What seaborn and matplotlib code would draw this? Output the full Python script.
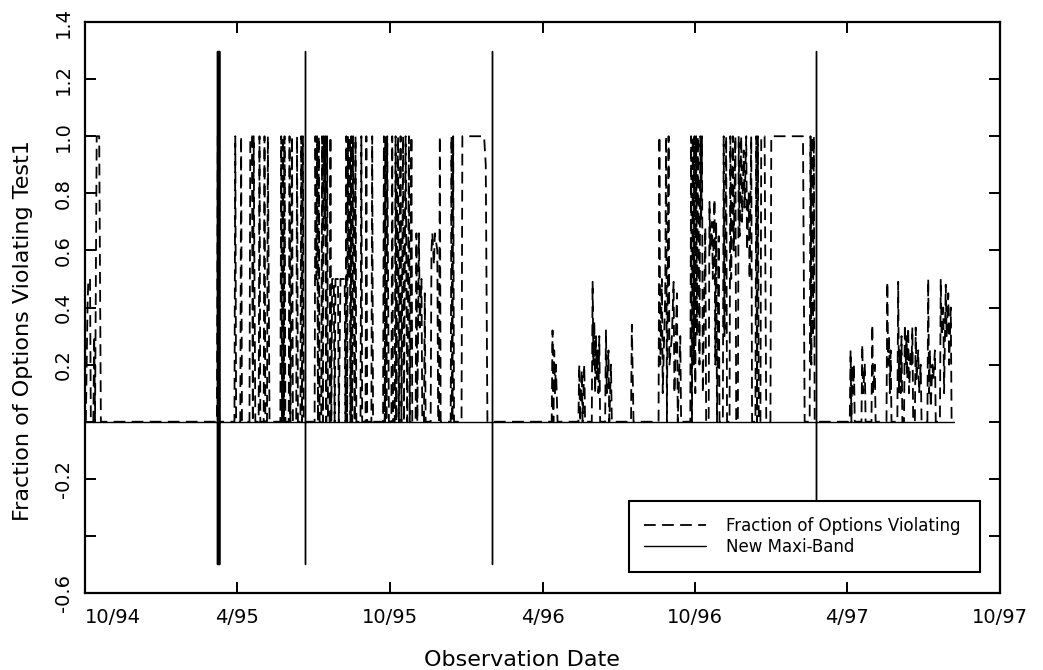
import matplotlib
matplotlib.use("Agg")
import matplotlib.pyplot as plt
import seaborn as sns
import pandas as pd

# ---------------- data ----------------
seg1_dates = ["1994-10-02", "1994-10-03", "1994-10-04", "1994-10-05", "1994-10-07", "1994-10-08",
              "1994-10-11", "1994-10-12", "1994-10-13", "1994-10-15", "1994-10-18", "1994-10-20"]
seg1_values = [0, 0.2, 0.4, 0.5, 0.5, 0,
               0, 0.3, 0, 1.0, 1.0, 0]

seg2_dates = [
    "1995-03-08", "1995-03-09", "1995-03-10", "1995-03-11", "1995-03-29", "1995-03-30", "1995-03-31",
    "1995-04-05", "1995-04-06", "1995-04-07", "1995-04-16", "1995-04-17", "1995-04-19", "1995-04-20",
    "1995-04-21", "1995-04-22", "1995-04-23", "1995-04-27", "1995-04-28", "1995-04-29",
    "1995-05-03", "1995-05-04", "1995-05-05", "1995-05-07", "1995-05-08", "1995-05-09", "1995-05-10",
    "1995-05-23", "1995-05-24", "1995-05-25", "1995-05-26", "1995-05-27", "1995-05-28", "1995-05-29",
    "1995-06-02", "1995-06-03", "1995-06-04", "1995-06-06", "1995-06-07", "1995-06-11", "1995-06-12",
    "1995-06-13", "1995-06-16", "1995-06-17", "1995-06-18", "1995-06-19", "1995-06-20",
    "1995-07-03", "1995-07-04", "1995-07-05", "1995-07-06", "1995-07-07", "1995-07-08", "1995-07-09",
    "1995-07-11", "1995-07-12", "1995-07-13", "1995-07-14", "1995-07-15", "1995-07-16", "1995-07-17",
    "1995-07-18", "1995-07-19", "1995-07-21", "1995-07-22", "1995-07-23", "1995-07-24", "1995-07-26",
    "1995-07-27", "1995-07-28", "1995-07-31", "1995-08-01", "1995-08-03", "1995-08-06", "1995-08-08",
    "1995-08-09", "1995-08-10", "1995-08-11", "1995-08-12", "1995-08-13", "1995-08-14", "1995-08-15",
    "1995-08-16", "1995-08-17", "1995-08-18", "1995-08-19", "1995-08-20", "1995-08-21", "1995-08-22",
    "1995-08-27", "1995-08-28", "1995-08-29", "1995-09-02", "1995-09-03", "1995-09-04", "1995-09-09",
    "1995-09-10", "1995-09-11", "1995-09-23", "1995-09-24", "1995-09-25", "1995-09-26", "1995-09-27",
    "1995-09-28", "1995-09-29", "1995-09-30", "1995-10-03", "1995-10-04", "1995-10-05", "1995-10-07",
    "1995-10-08", "1995-10-09", "1995-10-10", "1995-10-11", "1995-10-12", "1995-10-13", "1995-10-14",
    "1995-10-15", "1995-10-17", "1995-10-18", "1995-10-20", "1995-10-21", "1995-10-22", "1995-10-24",
    "1995-10-25", "1995-10-27", "1995-10-28", "1995-11-01", "1995-11-02", "1995-11-03", "1995-11-05",
    "1995-11-06", "1995-11-08", "1995-11-09", "1995-11-11", "1995-11-12", "1995-11-13", "1995-11-19",
    "1995-11-20", "1995-11-21", "1995-11-22", "1995-11-23", "1995-11-24", "1995-11-27", "1995-11-28",
    "1995-11-29", "1995-11-30", "1995-12-01", "1995-12-13", "1995-12-14", "1995-12-15", "1995-12-16",
    "1995-12-17", "1995-12-26", "1995-12-27", "1996-01-22", "1996-01-24", "1996-01-26"]
seg2_values = [
    0, 1.0, 1.0, 0, 0, 1.0, 0,
    0, 1.0, 0, 0, 1.0, 1.0, 0,
    1.0, 0.5, 0, 0, 1.0, 0,
    0, 1.0, 0, 0, 1.0, 0.5, 0,
    0, 1.0, 0, 1.0, 0, 1.0, 0,
    0, 1.0, 0, 1.0, 0, 0, 1.0,
    0, 0, 1.0, 0, 1.0, 0,
    0, 1.0, 0.5, 1.0, 0, 1.0, 0,
    0, 1.0, 0, 1.0, 0.67, 1.0, 0,
    1.0, 0, 0, 1.0, 0, 0.5, 0.5,
    0, 0.5, 0.5, 0, 0.5, 0.5, 0.5,
    0, 1.0, 0, 1.0, 0.5, 1.0, 0,
    1.0, 0, 1.0, 0.5, 0, 1.0, 0,
    0, 1.0, 0, 0, 1.0, 0, 0,
    1.0, 0, 0, 1.0, 0, 1.0, 0,
    1.0, 0.5, 0, 0, 1.0, 0, 0,
    1.0, 0, 0.8, 1.0, 0, 0.67, 1.0,
    0, 1.0, 0, 1.0, 0.5, 0, 1.0,
    0, 1.0, 0, 0, 0.66, 0, 0.66,
    0.33, 0.5, 0, 0, 0.45, 0, 0,
    0.6, 0.66, 0.6, 0.55, 0.66, 0.6, 0,
    0, 1.0, 0, 0, 1.0, 0, 1.0,
    0, 0, 1.0, 1.0, 0.9, 0]

seg3_dates = [
    "1996-04-12", "1996-04-13", "1996-04-14", "1996-04-15", "1996-04-16", "1996-04-17", "1996-04-19",
    "1996-05-14", "1996-05-15", "1996-05-16", "1996-05-18", "1996-05-19", "1996-05-21", "1996-05-22",
    "1996-05-30", "1996-05-31", "1996-06-01", "1996-06-02", "1996-06-03", "1996-06-04", "1996-06-05",
    "1996-06-06", "1996-06-07", "1996-06-08", "1996-06-09", "1996-06-15", "1996-06-16", "1996-06-17",
    "1996-06-19", "1996-06-20", "1996-06-22", "1996-06-23", "1996-07-16", "1996-07-17", "1996-07-19",
    "1996-08-18", "1996-08-19", "1996-08-20", "1996-08-22", "1996-08-23", "1996-08-26", "1996-08-27",
    "1996-08-28", "1996-08-30", "1996-08-31", "1996-09-03", "1996-09-05", "1996-09-06", "1996-09-09",
    "1996-09-10", "1996-09-13", "1996-09-14", "1996-09-25", "1996-09-26", "1996-09-27", "1996-09-28",
    "1996-09-29", "1996-09-30", "1996-10-01", "1996-10-02", "1996-10-03", "1996-10-04", "1996-10-05",
    "1996-10-06", "1996-10-07", "1996-10-08", "1996-10-09", "1996-10-10", "1996-10-13", "1996-10-14",
    "1996-10-17", "1996-10-18", "1996-10-19", "1996-10-21", "1996-10-22", "1996-10-24", "1996-10-25",
    "1996-10-26", "1996-10-27", "1996-10-29", "1996-10-30", "1996-11-03", "1996-11-04", "1996-11-05",
    "1996-11-07", "1996-11-08", "1996-11-11", "1996-11-12", "1996-11-13", "1996-11-15", "1996-11-16",
    "1996-11-18", "1996-11-19", "1996-11-21", "1996-11-22", "1996-11-23", "1996-11-25", "1996-11-26",
    "1996-11-28", "1996-11-29", "1996-12-01", "1996-12-02", "1996-12-04", "1996-12-05", "1996-12-07",
    "1996-12-08", "1996-12-12", "1996-12-13", "1996-12-14", "1996-12-15", "1996-12-16", "1996-12-18",
    "1996-12-19", "1996-12-23", "1996-12-25", "1996-12-30", "1996-12-31", "1997-02-07", "1997-02-09",
    "1997-02-15", "1997-02-16", "1997-02-17", "1997-02-18", "1997-02-19", "1997-02-20", "1997-02-21"]
seg3_values = [
    0, 0.32, 0, 0.25, 0.1, 0.2, 0,
    0, 0.2, 0, 0.18, 0, 0.2, 0,
    0, 0.49, 0.2, 0.35, 0.1, 0.3, 0.15,
    0.25, 0.1, 0.3, 0, 0, 0.32, 0.1,
    0.25, 0, 0.2, 0, 0, 0.34, 0,
    0, 1.0, 0.2, 0.5, 0.1, 0.45, 1.0,
    0, 1.0, 0.2, 0.3, 0.49, 0.1, 0.45,
    0, 0.3, 0, 0, 1.0, 0, 1.0,
    0.2, 1.0, 0.1, 1.0, 0.3, 1.0, 0.7,
    0.2, 1.0, 0.7, 1.0, 0.1, 0.68, 0,
    0, 0.77, 0.6, 0.7, 0.5, 0.78, 0.2,
    0.7, 0, 0.65, 0, 0, 1.0, 0.3,
    1.0, 0, 0, 1.0, 0.5, 1.0, 0.6,
    1.0, 0, 0, 1.0, 0.65, 1.0, 0.7,
    0.95, 0.75, 1.0, 0.6, 0.8, 0.5, 1.0,
    0, 0, 1.0, 0, 1.0, 0, 0,
    1.0, 1.0, 0, 0, 1.0, 1.0, 0,
    0, 1.0, 0.2, 1.0, 0.3, 1.0, 0]

seg4_dates = [
    "1997-04-04", "1997-04-05", "1997-04-06", "1997-04-07", "1997-04-08", "1997-04-09", "1997-04-10",
    "1997-04-18", "1997-04-19", "1997-04-20", "1997-04-22", "1997-04-23", "1997-04-30", "1997-05-01",
    "1997-05-02", "1997-05-04", "1997-05-05", "1997-05-18", "1997-05-19", "1997-05-20", "1997-05-21",
    "1997-05-22", "1997-05-23", "1997-05-24", "1997-05-31", "1997-06-01", "1997-06-02", "1997-06-03",
    "1997-06-04", "1997-06-05", "1997-06-06", "1997-06-08", "1997-06-09", "1997-06-10", "1997-06-11",
    "1997-06-12", "1997-06-13", "1997-06-14", "1997-06-16", "1997-06-17", "1997-06-18", "1997-06-19",
    "1997-06-21", "1997-06-22", "1997-06-23", "1997-06-25", "1997-06-26", "1997-06-28", "1997-06-29",
    "1997-07-06", "1997-07-07", "1997-07-08", "1997-07-09", "1997-07-10", "1997-07-12", "1997-07-13",
    "1997-07-15", "1997-07-16", "1997-07-21", "1997-07-22", "1997-07-23", "1997-07-25", "1997-07-26",
    "1997-07-28", "1997-07-29", "1997-07-31", "1997-08-01", "1997-08-03", "1997-08-04", "1997-08-07"]
seg4_values = [
    0, 0.25, 0, 0.2, 0.1, 0.2, 0,
    0, 0.27, 0.1, 0.2, 0, 0, 0.34,
    0.1, 0.2, 0, 0, 0.49, 0.2, 0.3,
    0.1, 0.25, 0, 0, 0.49, 0.1, 0.25,
    0.1, 0.3, 0, 0, 0.34, 0.2, 0.3,
    0.15, 0.33, 0.1, 0.25, 0.2, 0.33, 0,
    0, 0.33, 0.15, 0.25, 0.1, 0.2, 0,
    0, 0.5, 0.1, 0.25, 0.05, 0.2, 0.15,
    0.25, 0, 0, 0.5, 0.3, 0.4, 0.1,
    0.48, 0.3, 0.45, 0.2, 0.4, 0, 0]

band_dates = ["1995-03-08", "1995-03-09", "1995-03-10", "1995-03-11",
              "1995-06-21", "1996-02-01", "1997-02-22"]
band_top = 1.3
band_bottom = -0.5
band_span = ["1994-10-01", "1997-08-07"]

xtick_dates = ["1994-10-01", "1995-04-01", "1995-10-01", "1996-04-01",
               "1996-10-01", "1997-04-01", "1997-10-01"]
xtick_labels = ["10/94", "4/95", "10/95", "4/96", "10/96", "4/97", "10/97"]
ytick_values = [-0.6, -0.4, -0.2, 0.0, 0.2, 0.4, 0.6, 0.8, 1.0, 1.2, 1.4]
ytick_labels = ["-0.6", "", "-0.2", "", "0.2", "0.4", "0.6", "0.8", "1.0", "1.2", "1.4"]

# ---------------- tables ----------------
frac_dates = seg1_dates + seg2_dates + seg3_dates + seg4_dates
frac_values = seg1_values + seg2_values + seg3_values + seg4_values
assert len(frac_dates) == len(frac_values)
frac_df = pd.DataFrame({"date": pd.to_datetime(frac_dates), "value": frac_values})

band_rows = [(band_span[0], 0.0)]
for d in band_dates:
    band_rows += [(d, 0.0), (d, band_top), (d, band_bottom), (d, 0.0)]
band_rows.append((band_span[1], 0.0))
band_df = pd.DataFrame(band_rows, columns=["date", "value"])
band_df["date"] = pd.to_datetime(band_df["date"])

# ---------------- plot ----------------
sns.set_style("ticks")
plt.rcParams["font.family"] = ["DejaVu Sans"]
plt.rcParams["text.color"] = "black"
plt.rcParams["axes.labelcolor"] = "black"
plt.rcParams["xtick.color"] = "black"
plt.rcParams["ytick.color"] = "black"

fig = plt.figure(figsize=(10.43, 6.70), dpi=100)
ax = fig.add_axes([0.0815, 0.1149, 0.8773, 0.8522])

sns.lineplot(data=frac_df, x="date", y="value", ax=ax, estimator=None, sort=False,
             color="black", lw=1.3, linestyle=(0, (6.5, 3.5)),
             label="Fraction of Options Violating")
sns.lineplot(data=band_df, x="date", y="value", ax=ax, estimator=None, sort=False,
             color="black", lw=1.0, label="New Maxi-Band")

ax.set_xlim(pd.Timestamp(xtick_dates[0]), pd.Timestamp(xtick_dates[-1]))
ax.set_ylim(-0.6, 1.4)
ax.set_xticks(pd.to_datetime(xtick_dates))
ax.set_xticklabels(xtick_labels)
ax.set_yticks(ytick_values)
ax.set_yticklabels(ytick_labels)

for s in ax.spines.values():
    s.set_linewidth(1.6)
    s.set_color("black")
    s.set_visible(True)

ax.tick_params(direction="in", length=8, width=1.4, top=True, right=True,
               labelsize=14, colors="black")
ax.tick_params(axis="x", pad=11)
ax.tick_params(axis="y", pad=9)
for lbl in ax.get_yticklabels():
    lbl.set_rotation(90)
    lbl.set_verticalalignment("center")
ax.xaxis.get_major_ticks()[0].label1.set_horizontalalignment("left")

ax.set_xlabel("Observation Date", fontsize=16, color="black")
ax.set_ylabel("Fraction of Options Violating Test1", fontsize=16, color="black")
ax.xaxis.set_label_coords(0.477, -0.10)
ax.yaxis.set_label_coords(-0.057, 0.46)

leg = ax.legend(loc="center left", bbox_to_anchor=(0.585, 0.040, 0.402, 0.119), mode="expand",
                fontsize=12, handlelength=3.7, handletextpad=1.2, labelspacing=0.2,
                borderpad=0.95, frameon=True, fancybox=False, edgecolor="black",
                framealpha=1)
leg.get_frame().set_linewidth(1.5)
for t in leg.get_texts():
    t.set_color("black")

fig.savefig("out.png", dpi=100)
